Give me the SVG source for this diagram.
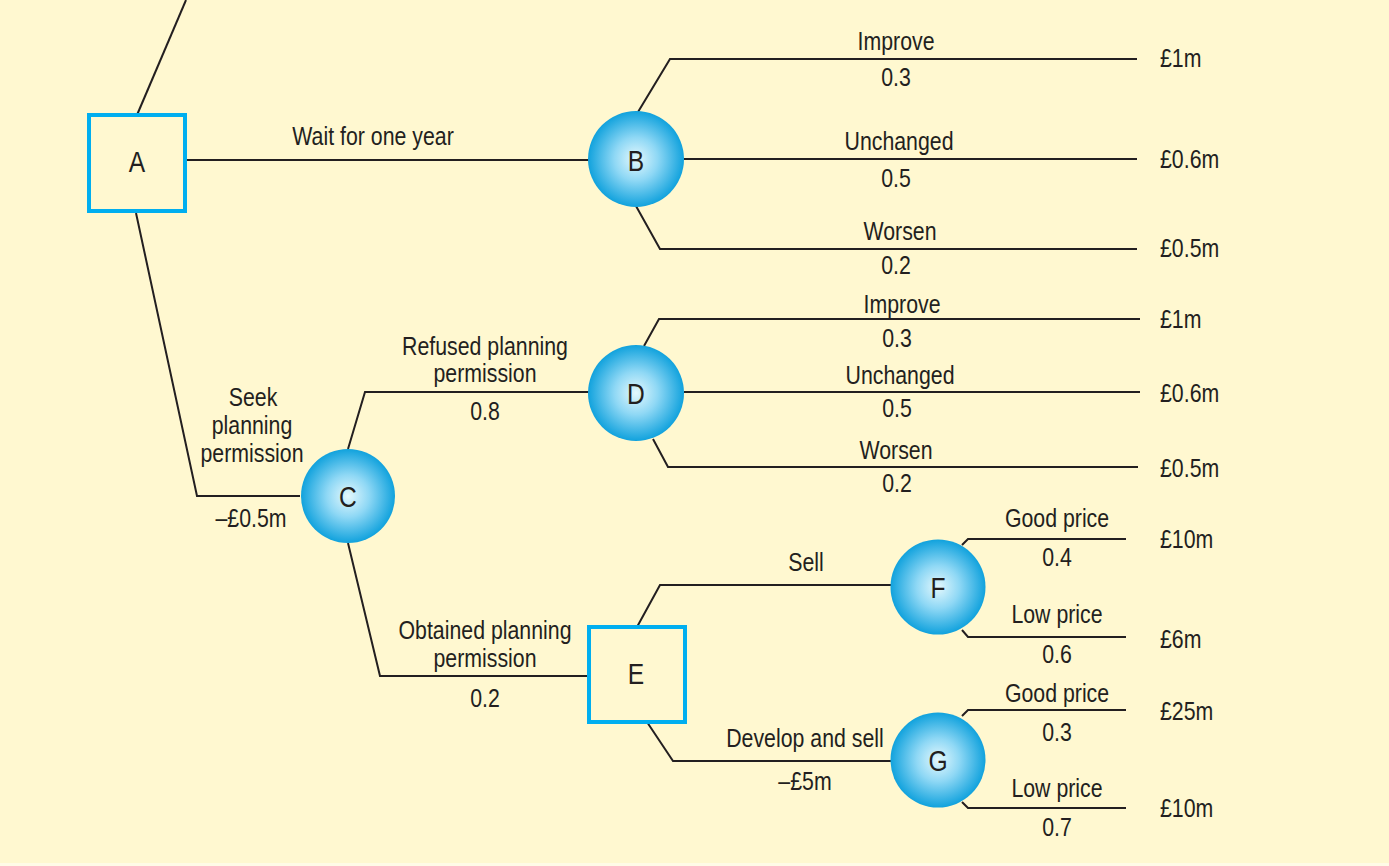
<svg xmlns="http://www.w3.org/2000/svg" width="1389" height="866" viewBox="0 0 1389 866">
<defs>
<radialGradient id="ball" cx="50%" cy="50%" r="50%">
<stop offset="0" stop-color="#E4F8FD"/>
<stop offset="0.45" stop-color="#8FD8F5"/>
<stop offset="1" stop-color="#11A2DD"/>
</radialGradient>
<style>
.bg{fill:#FFF8D0}
.ln{fill:none;stroke:#231F20;stroke-width:2;stroke-linejoin:miter}
.box{fill:#FFF8D0;stroke:#00AEEF;stroke-width:4}
.ball{fill:url(#ball)}
text{font-family:"Liberation Sans",Arial,sans-serif;fill:#231F20}
.lb{font-size:26px;text-anchor:middle}
.val{font-size:26px;text-anchor:start}
.nd{font-size:30px;text-anchor:middle}
</style>
</defs>
<rect class="bg" x="0" y="0" width="1389" height="866"/>
<rect x="0" y="863" width="1389" height="3" fill="#FFFBE6"/>
<g id="connectors">
<path class="ln" d="M137,115 L186,0"/>
<path class="ln" d="M187,160 L590,160"/>
<path class="ln" d="M136,213 L197,496 L300,496"/>
<path class="ln" d="M638,112 L670,59 L1137,59"/>
<path class="ln" d="M684,159 L1137,159"/>
<path class="ln" d="M636,206 L660,249 L1137,249"/>
<path class="ln" d="M348,449 L365,392 L590,392"/>
<path class="ln" d="M348,543 L380,676 L589,676"/>
<path class="ln" d="M644,346 L659,319 L1140,319"/>
<path class="ln" d="M684,392 L1140,392"/>
<path class="ln" d="M653,439 L668,467 L1138,467"/>
<path class="ln" d="M637,627 L660,585 L891,585"/>
<path class="ln" d="M647,722 L673,761 L891,761"/>
<path class="ln" d="M962,545 L968,539 L1126,539"/>
<path class="ln" d="M962,630 L968,637 L1126,637"/>
<path class="ln" d="M962,716 L968,710 L1126,710"/>
<path class="ln" d="M962,802 L968,808 L1126,808"/>
</g>
<g id="labels">
<text class="lb" transform="translate(373,145) scale(.82,1)">Wait for one year</text>
<text class="lb" transform="translate(896,50) scale(.82,1)">Improve</text>
<text class="lb" transform="translate(896,86) scale(.82,1)">0.3</text>
<text class="lb" transform="translate(899,150) scale(.82,1)">Unchanged</text>
<text class="lb" transform="translate(896,187) scale(.82,1)">0.5</text>
<text class="lb" transform="translate(900,240) scale(.82,1)">Worsen</text>
<text class="lb" transform="translate(896,274) scale(.82,1)">0.2</text>
<text class="val" transform="translate(1160,67) scale(.82,1)">£1m</text>
<text class="val" transform="translate(1160,168) scale(.82,1)">£0.6m</text>
<text class="val" transform="translate(1160,257) scale(.82,1)">£0.5m</text>
<text class="lb" transform="translate(253,406) scale(.82,1)">Seek</text>
<text class="lb" transform="translate(252,434) scale(.82,1)">planning</text>
<text class="lb" transform="translate(252,462) scale(.82,1)">permission</text>
<text class="lb" transform="translate(251,527) scale(.82,1)">–£0.5m</text>
<text class="lb" transform="translate(485,355) scale(.82,1)">Refused planning</text>
<text class="lb" transform="translate(485,382) scale(.82,1)">permission</text>
<text class="lb" transform="translate(485,420) scale(.82,1)">0.8</text>
<text class="lb" transform="translate(485,639) scale(.82,1)">Obtained planning</text>
<text class="lb" transform="translate(485,667) scale(.82,1)">permission</text>
<text class="lb" transform="translate(485,707) scale(.82,1)">0.2</text>
<text class="lb" transform="translate(902,313) scale(.82,1)">Improve</text>
<text class="lb" transform="translate(897,347) scale(.82,1)">0.3</text>
<text class="lb" transform="translate(900,384) scale(.82,1)">Unchanged</text>
<text class="lb" transform="translate(897,417) scale(.82,1)">0.5</text>
<text class="lb" transform="translate(896,459) scale(.82,1)">Worsen</text>
<text class="lb" transform="translate(897,492) scale(.82,1)">0.2</text>
<text class="val" transform="translate(1160,328) scale(.82,1)">£1m</text>
<text class="val" transform="translate(1160,402) scale(.82,1)">£0.6m</text>
<text class="val" transform="translate(1160,477) scale(.82,1)">£0.5m</text>
<text class="lb" transform="translate(806,571) scale(.82,1)">Sell</text>
<text class="lb" transform="translate(805,747) scale(.82,1)">Develop and sell</text>
<text class="lb" transform="translate(805,790) scale(.82,1)">–£5m</text>
<text class="lb" transform="translate(1057,527) scale(.82,1)">Good price</text>
<text class="lb" transform="translate(1057,566) scale(.82,1)">0.4</text>
<text class="lb" transform="translate(1057,623) scale(.82,1)">Low price</text>
<text class="lb" transform="translate(1057,663) scale(.82,1)">0.6</text>
<text class="lb" transform="translate(1057,702) scale(.82,1)">Good price</text>
<text class="lb" transform="translate(1057,741) scale(.82,1)">0.3</text>
<text class="lb" transform="translate(1057,797) scale(.82,1)">Low price</text>
<text class="lb" transform="translate(1057,836) scale(.82,1)">0.7</text>
<text class="val" transform="translate(1160,548) scale(.82,1)">£10m</text>
<text class="val" transform="translate(1160,648) scale(.82,1)">£6m</text>
<text class="val" transform="translate(1160,720) scale(.82,1)">£25m</text>
<text class="val" transform="translate(1160,817) scale(.82,1)">£10m</text>
</g>
<g id="node-A">
<rect class="box" x="89" y="115" width="96" height="96"/>
<text class="nd" transform="translate(137,172) scale(.82,1)">A</text>
</g>
<g id="node-B">
<circle class="ball" cx="636" cy="159" r="48"/>
<text class="nd" transform="translate(636,171) scale(.82,1)">B</text>
</g>
<g id="node-C">
<circle class="ball" cx="348" cy="496" r="47"/>
<text class="nd" transform="translate(348,507) scale(.82,1)">C</text>
</g>
<g id="node-D">
<circle class="ball" cx="636" cy="393" r="48"/>
<text class="nd" transform="translate(636,404) scale(.82,1)">D</text>
</g>
<g id="node-E">
<rect class="box" x="589" y="627" width="96" height="95"/>
<text class="nd" transform="translate(636,684) scale(.82,1)">E</text>
</g>
<g id="node-F">
<circle class="ball" cx="938" cy="587" r="47.5"/>
<text class="nd" transform="translate(938,598) scale(.82,1)">F</text>
</g>
<g id="node-G">
<circle class="ball" cx="938" cy="760" r="47.5"/>
<text class="nd" transform="translate(938,771) scale(.82,1)">G</text>
</g>
</svg>
